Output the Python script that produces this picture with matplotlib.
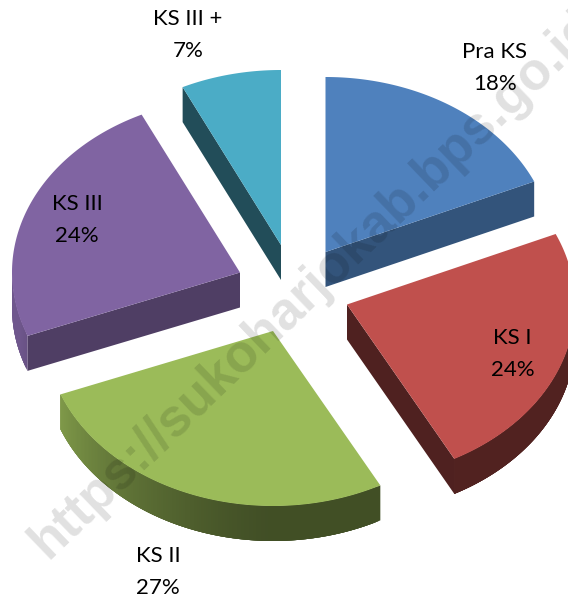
import numpy as np
import matplotlib
matplotlib.use("Agg")
import matplotlib.pyplot as plt
from matplotlib.patches import Polygon

categories = ["Pra KS", "KS I", "KS II", "KS III", "KS III +"]
shares = [18.4, 23.8, 26.9, 23.8, 7.1]

top_colors = ["#4F81BD", "#C0504D", "#9BBB59", "#8064A2", "#4BACC6"]
radial_shade = [0.65, 0.41, 0.40, 0.62, 0.45]
apex_xy = [(325.5, 252), (347, 304.5), (273, 331), (240, 272.5), (281, 245)]
label_xy = [(495, 67.5), (512.5, 354.5), (158, 572), (77, 220.5), (188, 35)]
RX, RY, DEPTH = 228, 175, 35

fig = plt.figure(figsize=(5.68, 5.99), dpi=100)
ax = fig.add_axes([0, 0, 1, 1])
ax.set_xlim(0, 568)
ax.set_ylim(599, 0)
ax.axis("off")


def shade(col, f):
    return tuple(np.array(matplotlib.colors.to_rgb(col)) * f)


def arc_shade(deg):
    if deg <= 180:
        return 0.42
    return 0.42 + 0.45 * min((deg - 180) / 75.0, 1.0) ** 1.3


edges = np.cumsum([0] + shares) / sum(shares) * 360.0
for i, name in enumerate(categories):
    a0, a1 = edges[i], edges[i + 1]
    cx, cy = apex_xy[i]
    th = np.linspace(a0, a1, 160)
    xs = cx + RX * np.sin(np.radians(th))
    ys = cy - RY * np.cos(np.radians(th))
    col = top_colors[i]
    dark = shade(col, radial_shade[i])
    # radial walls, only those facing the viewer
    walls = []
    if a1 < 180:
        walls.append((xs[-1], ys[-1]))
    if a0 > 180:
        walls.append((xs[0], ys[0]))
    for (ex, ey) in walls:
        ax.add_patch(Polygon([(cx, cy), (ex, ey), (ex, ey + DEPTH), (cx, cy + DEPTH)],
                             closed=True, fc=dark, ec="none", zorder=2))
    # curved wall, front half of the rim only; strips overlap to avoid seams
    idx = np.where((th >= 90) & (th <= 270))[0]
    for j in idx[:-1]:
        k = min(j + 4, idx[-1])
        c = shade(col, arc_shade(th[j]))
        ax.add_patch(Polygon([(xs[j], ys[j]), (xs[k], ys[k]),
                              (xs[k], ys[k] + DEPTH), (xs[j], ys[j] + DEPTH)],
                             closed=True, fc=c, ec="none", zorder=3))
    # top face
    ax.add_patch(Polygon(np.column_stack([np.r_[cx, xs], np.r_[cy, ys]]), closed=True,
                         fc=col, ec="none", zorder=4))
    lx, ly = label_xy[i]
    ax.text(lx, ly, f"{name}\n{shares[i]:.0f}%", ha="center", va="center", fontsize=16,
            family="Lato", color="black", linespacing=1.75, zorder=5)

ax.text(48, 560, "https://sukoharjokab.bps.go.id", rotation=43.9, rotation_mode="anchor",
        ha="left", va="baseline", fontsize=38, family="Liberation Sans", weight="bold",
        color="black", alpha=0.12, zorder=6)

fig.savefig("out.png", dpi=100)
